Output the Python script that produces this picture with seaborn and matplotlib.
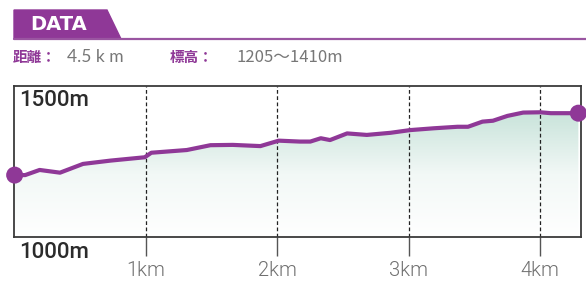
import numpy as np
import matplotlib
matplotlib.use("Agg")
import matplotlib.pyplot as plt
from matplotlib.patches import Polygon
from matplotlib.lines import Line2D
from matplotlib.colors import LinearSegmentedColormap
import seaborn as sns

# ---- data ----
dist_km = [0, 0.08, 0.19, 0.345, 0.52, 0.73, 0.99, 1.04, 1.31, 1.49, 1.66, 1.87,
           2.01, 2.17, 2.25, 2.33, 2.40, 2.53, 2.68, 2.86, 3.01, 3.19, 3.37, 3.45,
           3.56, 3.64, 3.75, 3.87, 4.00, 4.08, 4.29]
elev_m = [1205, 1205, 1222, 1213, 1242, 1253, 1264, 1279, 1288, 1304, 1305, 1301,
          1319, 1316, 1316, 1327, 1321, 1343, 1338, 1345, 1354, 1360, 1365, 1365,
          1382, 1385, 1401, 1412, 1413, 1410, 1410]
km_ticks = [1, 2, 3, 4]
km_labels = ["1km", "2km", "3km", "4km"]

PURPLE = "#8f3897"
W, H = 586, 284

sns.set_theme(style="white")
plt.rcParams['font.family'] = ['Noto Sans CJK JP', 'DejaVu Sans']

fig = plt.figure(figsize=(W / 100, H / 100), dpi=100)


def fx(x):
    return x / W


def fy(y):
    return 1 - y / H


ax = fig.add_axes([fx(14), fy(237), fx(581) - fx(14), fy(86) - fy(237)])

# gradient fill under the line
fill = ax.fill_between(dist_km, elev_m, 1000, color="none", lw=0)
cmap = LinearSegmentedColormap.from_list("g", ["#ffffff", "#f2f8f6", "#c8e3da"])
grad = np.linspace(0, 1, 256).reshape(-1, 1)
img = ax.imshow(grad, extent=[0, 4.31, 1000, 1415], origin="lower", cmap=cmap,
                aspect="auto", zorder=1)
img.set_clip_path(fill.get_paths()[0], transform=ax.transData)

sns.lineplot(x=dist_km, y=elev_m, ax=ax, color=PURPLE, lw=3, zorder=3)
ax.scatter([dist_km[0], dist_km[-1]], [elev_m[0], elev_m[-1]], s=150,
           color=PURPLE, zorder=5, clip_on=False, edgecolor="none")

for k in km_ticks:
    ax.axvline(k, color="#222222", lw=0.9, ls=(0, (3, 2)), zorder=2)

ax.set_xlim(-0.005, 4.31)
ax.set_ylim(1000, 1500)
ax.set_xticks(km_ticks)
ax.set_xticklabels(km_labels, color="#707070", fontsize=14.5,
                   family=["Roboto", "DejaVu Sans"], fontweight=300)
ax.set_yticks([])
ax.tick_params(axis="x", length=14, width=1, color="#555555", direction="out",
               pad=3, bottom=True)
for s in ax.spines.values():
    s.set_color("#3a3a3a")
    s.set_linewidth(1.3)

fig.text(fx(19), fy(100), "1500m", ha="left", va="center",
         fontsize=16, fontweight="medium", color="#2b2b2b",
         family=["Roboto", "DejaVu Sans"])
fig.text(fx(19), fy(252), "1000m", ha="left", va="center", fontsize=16,
         fontweight="medium", color="#2b2b2b", family=["Roboto", "DejaVu Sans"])

# header tab
tab = Polygon([(fx(14), fy(10)), (fx(107), fy(10)), (fx(121), fy(39)),
               (fx(14), fy(39))], closed=True, color=PURPLE,
              transform=fig.transFigure)
fig.add_artist(tab)
fig.add_artist(Line2D([fx(14), fx(586)], [fy(39), fy(39)], color="#9a55a1",
                      lw=1.6, transform=fig.transFigure))
fig.text(fx(30), fy(25), "DATA", ha="left", va="center", color="white",
         fontsize=14, fontweight="bold", family=["DejaVu Sans"])

fig.text(fx(13), fy(57), "距離：", ha="left", va="center", color=PURPLE,
         fontsize=10.5, fontweight="bold")
fig.text(fx(67), fy(57), "4.5 k m", ha="left", va="center", color="#777777",
         fontsize=12.5, family=["Lato", "DejaVu Sans"])
fig.text(fx(170), fy(57), "標高：", ha="left", va="center", color=PURPLE,
         fontsize=10.5, fontweight="bold")
fig.text(fx(236), fy(57), "1205〜1410m", ha="left", va="center",
         color="#777777", fontsize=12)

fig.savefig("out.png", dpi=100)
